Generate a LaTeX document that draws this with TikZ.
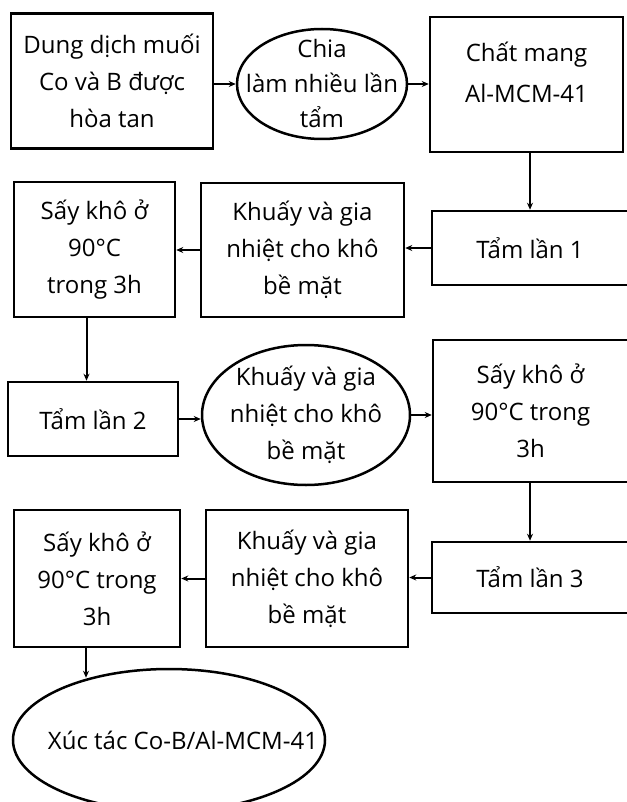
\documentclass[tikz,border=0pt]{standalone}
\usepackage{fontspec}
\setmainfont{Open Sans}
\usetikzlibrary{shapes.geometric,arrows.meta}

\begin{document}
\begin{tikzpicture}[x=1pt,y=-1pt,>={Stealth[length=7pt,width=6pt]},
  box/.style={draw,line width=2.5pt,rectangle,inner sep=0pt,align=center},
  oval/.style={draw,line width=2.5pt,ellipse,inner sep=0pt},
  link/.style={->,line width=2pt},
  every node/.append style={font=\fontsize{24}{37}\selectfont}]
\useasboundingbox (0,0) rectangle (626,802);

\node[box,minimum width=202pt,minimum height=135pt] (dung) at (112,81) {Dung dịch muối\\Co và B được\\hòa tan};
\node[oval,minimum width=170pt,minimum height=110pt,
  label={[align=center,font=\fontsize{24}{35}\selectfont]center:Chia\\làm nhiều lần\\tẩm}] (chia) at (322,84) {};
\node[box,minimum width=193pt,minimum height=135pt,
  label={[align=center,yshift=12pt]center:Chất mang\\[4pt]Al-MCM-41}] (mang) at (526.5,84.5) {};

\node[box,minimum width=161pt,minimum height=135pt] (say1) at (94.5,249.5) {Sấy khô ở\\90°C\\trong 3h};
\node[box,minimum width=203pt,minimum height=134pt] (khuay1) at (302.5,250) {Khuấy và gia\\nhiệt cho khô\\bề mặt};
\node[box,minimum width=196pt,minimum height=74pt] (tam1) at (530,248) {Tẩm lần 1};

\node[box,minimum width=170pt,minimum height=74pt] (tam2) at (93,419) {Tẩm lần 2};
\node[oval,minimum width=208pt,minimum height=140pt,
  label={[align=center]center:Khuấy và gia\\nhiệt cho khô\\bề mặt}] (khuay2) at (306,415) {};
\node[box,minimum width=195pt,minimum height=142pt] (say2) at (530.5,411) {Sấy khô ở\\90°C trong\\3h};

\node[box,minimum width=166pt,minimum height=137pt] (say3) at (97,578.5) {Sấy khô ở\\90°C trong\\3h};
\node[box,minimum width=202pt,minimum height=137pt] (khuay3) at (307,578.5) {Khuấy và gia\\nhiệt cho khô\\bề mặt};
\node[box,minimum width=196pt,minimum height=71pt] (tam3) at (530,577.5) {Tẩm lần 3};

\node[oval,minimum width=312pt,minimum height=142pt,
  label={[xshift=14pt]center:Xúc tác Co-B/Al-MCM-41}] (xuctac) at (169,740) {};

\draw[link] (dung.east |- chia.west) -- (chia.west);
\draw[link] (chia.east) -- (chia.east -| mang.west);
\draw[link] (mang.south -| tam1.north) -- (tam1.north);
\draw[link] (tam1.west) -- (tam1.west -| khuay1.east);
\draw[link] (khuay1.west) -- (khuay1.west -| say1.east);
\draw[link] ([xshift=-8pt]say1.south) -- ([xshift=-8pt]say1.south |- tam2.north);
\draw[link] (tam2.east) -- (tam2.east -| khuay2.west);
\draw[link] (khuay2.east) -- (khuay2.east -| say2.west);
\draw[link] (say2.south -| tam3.north) -- (tam3.north);
\draw[link] (tam3.west) -- (tam3.west -| khuay3.east);
\draw[link] (khuay3.west) -- (khuay3.west -| say3.east);
\draw[link] ([xshift=-11pt]say3.south) -- ([xshift=-11pt]say3.south |- xuctac.142);
\end{tikzpicture}
\end{document}
